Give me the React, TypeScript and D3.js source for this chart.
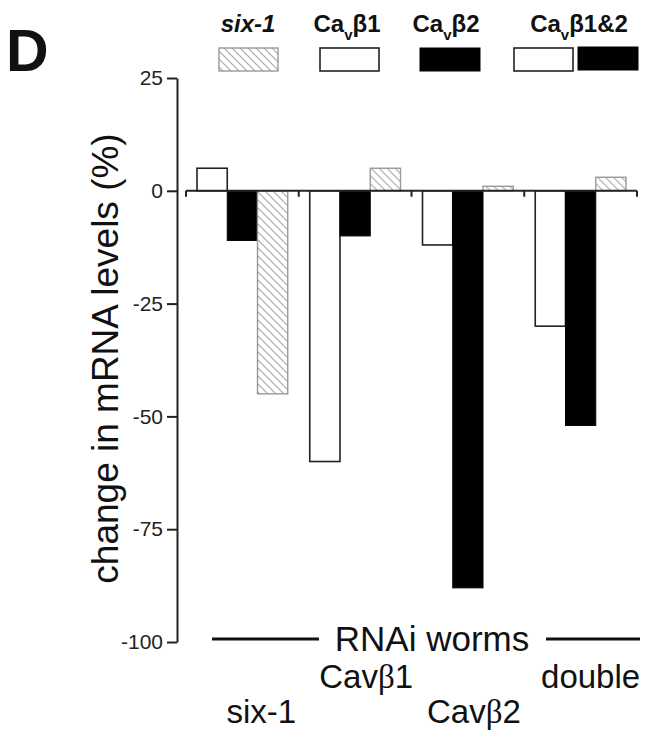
import React, { useEffect, useRef } from "react";
import * as d3 from "d3";

// RNAi groups along the x axis, and the mRNA measured in each group
const groups = ["six-1", "Cavβ1", "Cavβ2", "double"];
const series = ["cavb1", "cavb2", "six1"];
const cavb1Values = [5, -60, -12, -30];
const cavb2Values = [-11, -10, -88, -52];
const six1Values = [-45, 5, 1, 3];
const yTicks = [25, 0, -25, -50, -75, -100];

const W = 654;
const H = 739;
const FONT = "'Liberation Sans', Arial, sans-serif";

const App = () => {
  const axisRef = useRef<SVGGElement>(null);

  const y = d3.scaleLinear().domain([-100, 25]).range([642, 78]);
  const x0 = d3.scaleBand().domain(groups).range([186, 637]).padding(0);
  const x1 = d3
    .scaleBand()
    .domain(series)
    .range([11, x0.bandwidth() - 11])
    .padding(0);

  const valuesBySeries = { cavb1: cavb1Values, cavb2: cavb2Values, six1: six1Values };
  const styleBySeries = {
    cavb1: { fill: "#fff", stroke: "#222", strokeWidth: 1.6 },
    cavb2: { fill: "#000", stroke: "#000", strokeWidth: 1 },
    six1: { fill: "url(#hatch)", stroke: "#999", strokeWidth: 1.4 },
  };

  useEffect(() => {
    document.body.style.margin = "0";
    const axis = d3
      .axisLeft(y)
      .tickValues(yTicks)
      .tickSize(10)
      .tickSizeOuter(0)
      .tickPadding(4)
      .tickFormat((d) => String(d));
    const g = d3.select(axisRef.current);
    g.call(axis);
    g.select(".domain").attr("stroke", "#222").attr("stroke-width", 2);
    g.selectAll(".tick line").attr("stroke", "#222").attr("stroke-width", 2);
    g.selectAll(".tick text")
      .attr("font-family", FONT)
      .attr("font-size", 21)
      .attr("fill", "#222");
  }, []);

  const zero = y(0);
  // staggered category labels under the axis title
  const catY = [723, 688, 723, 688];
  const catDx = [19, 11, 6, 10];

  return (
    <svg width={W} height={H} style={{ display: "block", background: "#fff" }}>
      <defs>
        <pattern id="hatch" patternUnits="userSpaceOnUse" width={8} height={8}>
          <rect width={8} height={8} fill="#fff" />
          <path d="M0,0 L8,8 M-2,6 L2,10 M6,-2 L10,2" stroke="#aaa" strokeWidth={1.2} />
        </pattern>
      </defs>

      {/* panel letter */}
      <text x={6} y={71} fontFamily={FONT} fontWeight="bold" fontSize={59} fill="#111">
        D
      </text>

      {/* legend */}
      <g fontFamily={FONT} fontWeight="bold" fontSize={24} fill="#111" textAnchor="middle">
        <text x={248} y={32} fontStyle="italic">six-1</text>
        <text x={347} y={32}>
          Ca<tspan fontSize={15} dy={8}>v</tspan>
          <tspan dy={-8}>β1</tspan>
        </text>
        <text x={446} y={32}>
          Ca<tspan fontSize={15} dy={8}>v</tspan>
          <tspan dy={-8}>β2</tspan>
        </text>
        <text x={579} y={32}>
          Ca<tspan fontSize={15} dy={8}>v</tspan>
          <tspan dy={-8}>β1&amp;2</tspan>
        </text>
      </g>
      <rect x={219} y={48} width={59} height={23} {...styleBySeries.six1} />
      <rect x={320} y={48} width={59} height={23} {...styleBySeries.cavb1} />
      <rect x={420} y={48} width={60} height={23} {...styleBySeries.cavb2} />
      <rect x={514} y={48} width={59} height={23} {...styleBySeries.cavb1} />
      <rect x={578} y={47} width={60} height={23} {...styleBySeries.cavb2} />

      {/* bars */}
      {groups.map((gName, gi) => (
        <g key={gName} transform={`translate(${x0(gName)},0)`}>
          {series.map((s) => {
            const v = valuesBySeries[s][gi];
            const top = Math.min(y(v), zero);
            const h = Math.abs(y(v) - zero);
            return (
              <rect
                key={s}
                x={x1(s)}
                y={top}
                width={x1.bandwidth()}
                height={h}
                {...styleBySeries[s]}
              />
            );
          })}
        </g>
      ))}

      {/* zero baseline with group ticks */}
      <line x1={x0.range()[0]} x2={x0.range()[1]} y1={zero} y2={zero} stroke="#222" strokeWidth={2} />
      {[...groups.map((g) => x0(g)), x0.range()[1]].map((px, i) => (
        <line key={i} x1={px} x2={px} y1={zero} y2={zero + 6} stroke="#222" strokeWidth={2} />
      ))}

      {/* y axis */}
      <g ref={axisRef} transform="translate(177,0)" />
      <text
        transform={`translate(118,${(126 + 591) / 2}) rotate(-90)`}
        textAnchor="middle"
        fontFamily={FONT}
        fontSize={37}
        fill="#111"
      >
        change in mRNA levels (%)
      </text>

      {/* x axis title */}
      <line x1={212} x2={319} y1={639} y2={639} stroke="#111" strokeWidth={3} />
      <line x1={546} x2={640} y1={639} y2={639} stroke="#111" strokeWidth={3} />
      <text x={432} y={651} textAnchor="middle" fontFamily={FONT} fontSize={35} fill="#111">
        RNAi worms
      </text>

      {/* category labels */}
      {groups.map((gName, gi) => {
        const cx = (x0(gName) ?? 0) + x0.bandwidth() / 2 + catDx[gi];
        const beta = gName.indexOf("β");
        return (
          <text
            key={gName}
            x={cx}
            y={catY[gi]}
            textAnchor="middle"
            fontFamily={FONT}
            fontSize={33}
            fill="#111"
          >
            {beta < 0 ? (
              gName
            ) : (
              <>
                {gName.slice(0, beta)}
                <tspan fontFamily="'Liberation Serif', serif">β</tspan>
                {gName.slice(beta + 1)}
              </>
            )}
          </text>
        );
      })}
    </svg>
  );
};

export default App;
